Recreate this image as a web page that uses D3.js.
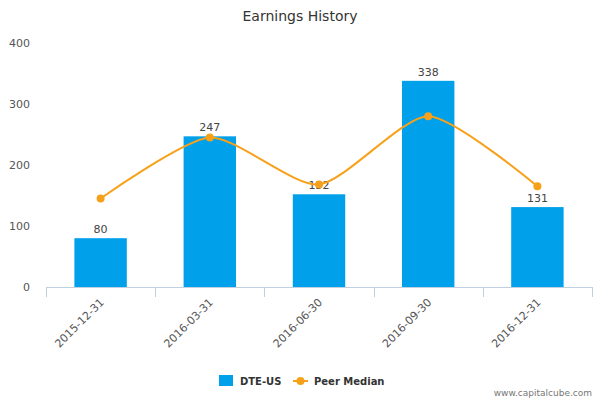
<!DOCTYPE html>
<html><head><meta charset="utf-8">
<script src="https://cdn.jsdelivr.net/npm/d3@7"></script>
<style>body{margin:0;background:#fff}svg{font-family:"DejaVu Sans",Verdana,sans-serif}</style>
</head><body><svg id="c" width="600" height="400"></svg>
<script>
const categories=["2015-12-31","2016-03-31","2016-06-30","2016-09-30","2016-12-31"];
const dteValues=[80,247,152,338,131];
const peerMedian=[145,245,168,280,165];
const yTicks=[0,100,200,300,400];

const svg=d3.select("#c");
const pLeft=46,pRight=592,pTop=43,pBottom=287;
const x=d3.scaleBand().domain(categories).range([pLeft,pRight]).paddingInner(0.52).paddingOuter(0.26);
const xc=d3.scalePoint().domain(categories).range([pLeft,pRight]).padding(0.5);
const y=d3.scaleLinear().domain([0,400]).range([pBottom,pTop]);

svg.append("text").attr("x",300).attr("y",21).attr("text-anchor","middle")
 .attr("font-size",14).attr("fill","#333").text("Earnings History");

svg.selectAll(".yl").data(yTicks).enter().append("text")
 .attr("x",30).attr("y",d=>y(d)+4).attr("text-anchor","end")
 .attr("font-size",11).attr("fill","#555").text(d=>d);

svg.selectAll(".bar").data(dteValues).enter().append("rect")
 .attr("x",(d,i)=>x(categories[i])).attr("width",x.bandwidth())
 .attr("y",d=>y(d)).attr("height",d=>pBottom-y(d)).attr("fill","#00a0ea");

const xa=d3.scaleLinear().domain([0,5]).range([pLeft,pRight]);
svg.append("line").attr("x1",pLeft).attr("x2",pRight).attr("y1",pBottom+0.5).attr("y2",pBottom+0.5).attr("stroke","#c0d0e0");
svg.selectAll(".tk").data(d3.range(6)).enter().append("line")
 .attr("x1",d=>Math.round(xa(d))+0.5).attr("x2",d=>Math.round(xa(d))+0.5)
 .attr("y1",pBottom).attr("y2",pBottom+10).attr("stroke","#c0d0e0");
svg.selectAll(".xl").data(categories).enter().append("text")
 .attr("transform",d=>`translate(${xc(d)+4},${pBottom+16}) rotate(-45)`)
 .attr("text-anchor","end").attr("font-size",11).attr("fill","#555").text(d=>d);

svg.selectAll(".bl").data(dteValues).enter().append("text")
 .attr("x",(d,i)=>xc(categories[i])).attr("y",d=>y(d)-5).attr("text-anchor","middle")
 .attr("font-size",11).attr("fill","#444").text(d=>d);

const line=d3.line().x((d,i)=>xc(categories[i])).y(d=>y(d)).curve(d3.curveCardinal.tension(0.3));
svg.append("path").datum(peerMedian).attr("d",line).attr("fill","none").attr("stroke","#f7a11a").attr("stroke-width",2);
svg.selectAll(".pt").data(peerMedian).enter().append("circle")
 .attr("cx",(d,i)=>xc(categories[i])).attr("cy",d=>y(d)).attr("r",4).attr("fill","#f7a11a");

svg.append("rect").attr("x",219).attr("y",375).attr("width",14).attr("height",11).attr("fill","#00a0ea");
svg.append("text").attr("x",240).attr("y",385).attr("font-size",10).attr("font-weight","bold").attr("fill","#333").text("DTE-US");
svg.append("line").attr("x1",293).attr("x2",308).attr("y1",381).attr("y2",381).attr("stroke","#f7a11a").attr("stroke-width",2);
svg.append("circle").attr("cx",300.5).attr("cy",381).attr("r",4).attr("fill","#f7a11a");
svg.append("text").attr("x",314).attr("y",385).attr("font-size",10).attr("font-weight","bold").attr("fill","#333").text("Peer Median");
svg.append("text").attr("x",592).attr("y",396).attr("text-anchor","end").attr("font-size",9).attr("fill","#777").text("www.capitalcube.com");
</script></body></html>
